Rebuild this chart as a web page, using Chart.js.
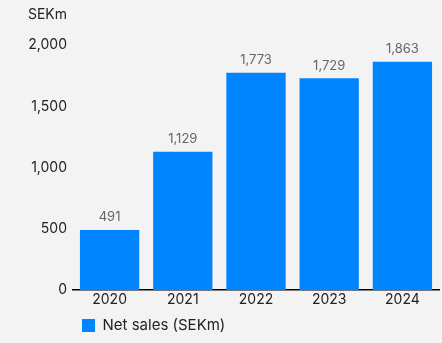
<!DOCTYPE html>
<html>
<head>
<meta charset="utf-8">
<script src="https://cdn.jsdelivr.net/npm/chart.js@4/dist/chart.umd.min.js"></script>
<style>
  html, body { margin: 0; padding: 0; background: #f3f3f3; }
  #wrap { width: 442px; height: 343px; }
</style>
</head>
<body>
<div id="wrap"><canvas id="salesChart"></canvas></div>
<script>
const years = ["2020", "2021", "2022", "2023", "2024"];
const netSales = [491, 1129, 1773, 1729, 1863];
const yTicks = [0, 500, 1000, 1500, 2000];

const blue = "#0085ff";
const fontFamily = "Inter, 'Open Sans', sans-serif";

const fmt = v => v.toLocaleString("en-US");

// value labels over each bar + unit caption above the y axis
const barLabels = {
    id: "barLabels",
    afterDatasetsDraw(chart) {
        const ctx = chart.ctx;
        const meta = chart.getDatasetMeta(0);
        ctx.save();
        ctx.font = "13px " + fontFamily;
        ctx.fillStyle = "#666666";
        ctx.textAlign = "center";
        ctx.textBaseline = "bottom";
        meta.data.forEach((bar, i) => {
            ctx.fillText(fmt(netSales[i]), bar.x, bar.y - 6);
        });
        ctx.font = "14px " + fontFamily;
        ctx.fillStyle = "#222222";
        ctx.textAlign = "right";
        ctx.textBaseline = "middle";
        ctx.fillText("SEKm", chart.scales.y.right - 6, 15);
        ctx.restore();
    }
};

const ctx = document.getElementById("salesChart").getContext("2d");
new Chart(ctx, {
    type: "bar",
    data: {
        labels: years,
        datasets: [{
            label: "Net sales (SEKm)",
            data: netSales,
            backgroundColor: blue,
            borderWidth: 0,
            barPercentage: 0.81,
            categoryPercentage: 1
        }]
    },
    options: {
        responsive: true,
        maintainAspectRatio: false,
        animation: false,
        layout: { padding: { top: 45, right: 3, left: 0, bottom: 0 } },
        plugins: {
            legend: {
                position: "bottom",
                align: "start",
                fullSize: false,
                labels: {
                    boxWidth: 13,
                    boxHeight: 13,
                    padding: 9,
                    color: "#222222",
                    font: { family: fontFamily, size: 15 }
                }
            },
            tooltip: { enabled: false }
        },
        scales: {
            x: {
                grid: { display: false, drawTicks: false },
                border: { display: true, color: "#000000", width: 1.5 },
                ticks: {
                    padding: 1,
                    color: "#222222",
                    font: { family: fontFamily, size: 14 }
                }
            },
            y: {
                min: 0,
                max: 2000,
                afterFit(scale) { scale.width = 73; },
                afterBuildTicks(scale) {
                    scale.ticks = yTicks.map(v => ({ value: v }));
                },
                grid: { display: false, drawTicks: false },
                border: { display: false },
                ticks: {
                    padding: 6,
                    color: "#222222",
                    font: { family: fontFamily, size: 14 },
                    callback: v => fmt(v)
                }
            }
        }
    },
    plugins: [barLabels]
});
</script>
</body>
</html>
